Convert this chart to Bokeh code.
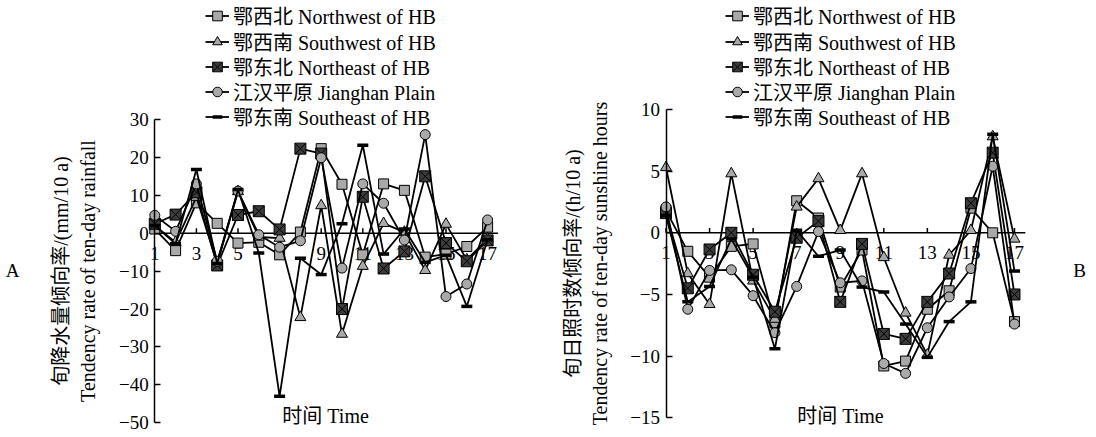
from bokeh.plotting import figure
from bokeh.models import Range1d, FixedTicker, Legend, LegendItem, Label
from bokeh.layouts import row
from bokeh.core.properties import value
from bokeh.embed import file_html
from bokeh.resources import INLINE

# ---------------- data ----------------
periods = list(range(1, 18))
x_ticks = [1, 3, 5, 7, 9, 11, 13, 15, 17]

names = ["鄂西北 Northwest of HB", "鄂西南 Southwest of HB", "鄂东北 Northeast of HB",
         "江汉平原 Jianghan Plain", "鄂东南 Southeast of HB"]

# Panel A: ten-day rainfall tendency (mm/10 a)
rain_nw = [1.1, -4.6, 8.0, 2.6, -2.6, -2.4, -5.7, 0.3, 22.3, 12.9, -5.7, 13.0, 11.3, -6.3, -5.5, -3.5, 1.6]
rain_sw = [2.0, -2.4, 9.5, -8.0, 11.0, -1.0, -1.3, -22.2, 7.3, -26.6, -8.7, 2.6, 0.3, -9.8, 2.4, -7.0, -1.5]
rain_ne = [2.5, 4.9, 10.8, -8.5, 4.8, 5.8, 1.0, 22.3, 21.0, -20.0, 9.6, -9.3, -4.8, 15.0, -2.6, -7.4, -1.9]
rain_jh = [4.7, 0.5, 13.0, -7.4, 11.1, -0.4, -3.7, -2.0, 19.9, -9.2, 13.0, 7.9, -1.8, 26.0, -16.7, -13.4, 3.5]
rain_se = [2.0, -2.8, 16.8, -8.0, 11.5, -5.2, -43.0, -6.6, -10.9, 2.5, 23.2, -5.5, 1.1, -7.7, -5.8, -19.3, -1.7]
rain_ticks = [-50, -40, -30, -20, -10, 0, 10, 20, 30]

# Panel B: ten-day sunshine hours tendency (h/10 a)
sun_nw = [1.8, -1.5, -3.6, -1.1, -0.9, -7.3, 2.6, 1.2, -4.4, -1.4, -10.8, -10.4, -6.2, -4.7, 2.0, 0.0, -7.2]
sun_sw = [5.3, -3.3, -5.8, 4.8, -3.9, -7.0, 2.1, 4.4, 0.2, 4.8, -2.0, -6.5, -9.9, -1.8, 0.2, 7.8, -0.5]
sun_ne = [1.6, -4.5, -1.35, 0.0, -3.4, -6.4, -0.4, 0.95, -5.6, -0.9, -8.2, -8.6, -5.6, -3.3, 2.4, 6.5, -5.0]
sun_jh = [2.1, -6.2, -3.05, -3.0, -5.1, -8.1, -4.35, 0.1, -4.05, -3.9, -10.6, -11.4, -7.7, -5.2, -2.9, 5.4, -7.4]
sun_se = [1.4, -5.6, -4.35, -0.5, -3.6, -9.4, 0.2, -1.9, -1.4, -4.4, -4.8, -7.4, -10.1, -7.2, -5.6, 8.0, -3.1]
sun_ticks = [-15, -10, -5, 0, 5, 10]

# ---------------- style ----------------
FONT = "'Liberation Serif', 'Noto Sans CJK SC'"
GRAY = "#a9a9a9"
DARK = "#3c3c3c"
markers = [("square", GRAY, 10, 1.0), ("triangle", GRAY, 11, 1.0), ("square_x", DARK, 11, 1.0),
           ("circle", GRAY, 10, 1.0), ("dash", "black", 11, 3.5)]
AXIS_END = 17.5
W, H = 548, 437
LEGEND_ROW_Y = [15.5, 41, 66, 91, 116]   # legend row centres, pixels from top
LEGEND_ITEM_H = 29


def panel(series, xr, yr, ybounds, yticks, ylab, tick_len,
          legend_dx, letter, letter_xy, time_xy):
    p = figure(width=W, height=H, x_range=Range1d(*xr), y_range=Range1d(*yr),
               output_backend="svg", toolbar_location=None, x_axis_location=None,
               min_border_left=0, min_border_right=0, min_border_top=0, min_border_bottom=0)
    p.grid.visible = False
    p.outline_line_color = None
    p.background_fill_color = "white"

    ax = p.yaxis[0]
    ax.fixed_location = 1
    ax.bounds = ybounds
    ax.ticker = FixedTicker(ticks=yticks)
    ax.major_label_overrides = {t: str(t).replace("-", "\u2212") for t in yticks}
    ax.major_tick_in = 6
    ax.major_tick_out = 0
    ax.minor_tick_line_color = None
    ax.axis_line_width = 1.5
    ax.major_tick_line_width = 1.5
    ax.major_label_standoff = 6
    ax.major_label_text_font = FONT
    ax.major_label_text_font_size = "19px"
    ax.major_label_text_color = "black"
    ax.axis_label = ylab
    ax.axis_label_text_font = FONT
    ax.axis_label_text_font_size = "20px"
    ax.axis_label_text_font_style = "normal"
    ax.axis_label_text_color = "black"
    ax.axis_label_standoff = 17

    # horizontal axis drawn at y = 0
    n = len(x_ticks)
    p.text(x=x_ticks, y=[0] * n, text=[str(t) for t in x_ticks], y_offset=20,
           text_align="center", text_baseline="middle", text_font=value(FONT),
           text_font_size="19px", text_color="black")
    p.segment(x0=[1], y0=[0], x1=[AXIS_END], y1=[0], line_color="black", line_width=1.5)
    p.segment(x0=x_ticks, y0=[0] * n, x1=x_ticks, y1=[tick_len] * n,
              line_color="black", line_width=1.5)

    for name, ys, (mk, fc, sz, lw), ry in zip(names, series, markers, LEGEND_ROW_Y):
        lr = p.line(periods, ys, line_color="black", line_width=1.8)
        sr = p.scatter(periods, ys, marker=mk, size=sz, fill_color=fc,
                       line_color="black", line_width=lw)
        leg = Legend(items=[LegendItem(label=name, renderers=[lr, sr])],
                     location=(legend_dx, H - ry - LEGEND_ITEM_H / 2),
                     label_text_font=FONT, label_text_font_size="20px",
                     label_text_color="black",
                     glyph_width=24, glyph_height=LEGEND_ITEM_H, label_height=LEGEND_ITEM_H,
                     label_standoff=4, spacing=0, padding=0, margin=0,
                     border_line_color=None, background_fill_alpha=0)
        p.add_layout(leg)

    p.add_layout(Label(x=time_xy[0], y=time_xy[1], text="时间 Time", text_align="center",
                       text_baseline="middle", text_font=FONT, text_font_size="20px",
                       text_color="black"))
    p.add_layout(Label(x=letter_xy[0], y=letter_xy[1], text=letter, text_align="center",
                       text_baseline="middle", text_font=FONT, text_font_size="19px",
                       text_color="black"))
    return p


pa = panel([rain_nw, rain_sw, rain_ne, rain_jh, rain_se], (-6.418, 19.928), (-53.87, 61.36),
           (-50, 30), rain_ticks,
           "旬降水量倾向率/(mm/10 a)\nTendency rate of ten-day rainfall",
           1.3, 205, "A", (-5.84, -9.84), (9.21, -48.07))
pb = panel([sun_nw, sun_sw, sun_ne, sun_jh, sun_se], (-4.395, 20.766), (-16.60, 18.84),
           (-15, 10), sun_ticks,
           "旬日照时数倾向率/(h/10 a)\nTendency rate of ten-day sunshine hours",
           0.4, 177, "B", (19.985, -3.06), (9.01, -14.82))

layout = row(pa, pb)
open("out.html", "w").write(file_html(layout, INLINE))
